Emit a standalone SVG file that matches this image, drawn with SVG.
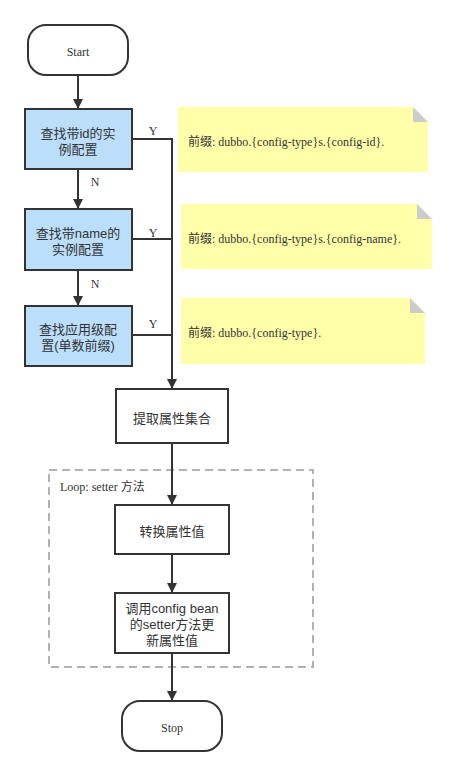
<svg xmlns="http://www.w3.org/2000/svg" width="457" height="776" viewBox="0 0 457 776">
<style>
.term{fill:#fff;stroke:#333;stroke-width:2}
.proc{fill:#fff;stroke:#333;stroke-width:2}
.dec{fill:#BBDEFB;stroke:#333;stroke-width:2}
.note{fill:#FFFFAA}
.fold{fill:#CCCCCC}
.edge{fill:none;stroke:#333;stroke-width:2}
.loop{fill:none;stroke:#999;stroke-width:1.5;stroke-dasharray:8,5}
.t{font-family:"Liberation Sans","Noto Sans CJK SC",sans-serif;font-size:13px;fill:#333;text-anchor:middle}
.s{font-family:"Liberation Serif","Noto Sans CJK SC",serif;font-size:12px;fill:#333}
.c{text-anchor:middle}
</style>
<defs>
<marker id="arr" markerWidth="10" markerHeight="10" refX="9" refY="5" orient="auto" markerUnits="userSpaceOnUse">
<path d="M0,0 L10,5 L0,10 Z" fill="#333"/>
</marker>
</defs>
<g id="loop">
<rect class="loop" x="49" y="470" width="264" height="197"/>
<text class="s" x="60" y="491">Loop: setter 方法</text>
</g>
<g id="connectors">
<line class="edge" x1="78" y1="75" x2="78" y2="108" marker-end="url(#arr)"/>
<line class="edge" x1="78" y1="169" x2="78" y2="208" marker-end="url(#arr)"/>
<line class="edge" x1="78" y1="270" x2="78" y2="305" marker-end="url(#arr)"/>
<polyline class="edge" points="132,139 172,139 172,388" marker-end="url(#arr)"/>
<line class="edge" x1="132" y1="239" x2="172" y2="239"/>
<line class="edge" x1="132" y1="335" x2="172" y2="335"/>
<line class="edge" x1="172" y1="443" x2="172" y2="504" marker-end="url(#arr)"/>
<line class="edge" x1="172" y1="554" x2="172" y2="592" marker-end="url(#arr)"/>
<line class="edge" x1="172" y1="653" x2="172" y2="700" marker-end="url(#arr)"/>
<text class="s c" x="153" y="135">Y</text>
<text class="s c" x="95" y="186">N</text>
<text class="s c" x="153" y="237">Y</text>
<text class="s c" x="95" y="288">N</text>
<text class="s c" x="153" y="328">Y</text>
</g>
<g id="start">
<rect class="term" x="28" y="25" width="100" height="50" rx="18" ry="18"/>
<text class="s c" x="78" y="56">Start</text>
</g>
<g id="find-id">
<rect class="dec" x="25" y="109" width="107" height="60"/>
<text class="t" x="78" y="138">查找带id的实</text>
<text class="t" x="78" y="154">例配置</text>
</g>
<g id="note-id">
<path class="note" d="M178,107 L413,107 L428,122 L428,172 L178,172 Z"/>
<path class="fold" d="M413,107 L428,122 L413,122 Z"/>
<text class="s" x="188" y="146">前缀: dubbo.{config-type}s.{config-id}.</text>
</g>
<g id="find-name">
<rect class="dec" x="25" y="209" width="107" height="61"/>
<text class="t" x="78" y="238">查找带name的</text>
<text class="t" x="78" y="254">实例配置</text>
</g>
<g id="note-name">
<path class="note" d="M181,204 L417,204 L432,219 L432,269 L181,269 Z"/>
<path class="fold" d="M417,204 L432,219 L417,219 Z"/>
<text class="s" x="188" y="243">前缀: dubbo.{config-type}s.{config-name}.</text>
</g>
<g id="find-app">
<rect class="dec" x="25" y="306" width="107" height="60"/>
<text class="t" x="78" y="334">查找应用级配</text>
<text class="t" x="78" y="350">置(单数前缀)</text>
</g>
<g id="note-app">
<path class="note" d="M181,298 L410,298 L425,313 L425,364 L181,364 Z"/>
<path class="fold" d="M410,298 L425,313 L410,313 Z"/>
<text class="s" x="188" y="337">前缀: dubbo.{config-type}.</text>
</g>
<g id="extract">
<rect class="proc" x="116" y="389" width="112" height="54"/>
<text class="t" x="172" y="423">提取属性集合</text>
</g>
<g id="convert">
<rect class="proc" x="115" y="505" width="114" height="49"/>
<text class="t" x="172" y="536">转换属性值</text>
</g>
<g id="setter">
<rect class="proc" x="115" y="593" width="114" height="60"/>
<text class="t" x="172" y="613">调用config bean</text>
<text class="t" x="172" y="629">的setter方法更</text>
<text class="t" x="172" y="645">新属性值</text>
</g>
<g id="stop">
<rect class="term" x="122" y="701" width="100" height="50" rx="18" ry="18"/>
<text class="s c" x="172" y="732">Stop</text>
</g>
</svg>
